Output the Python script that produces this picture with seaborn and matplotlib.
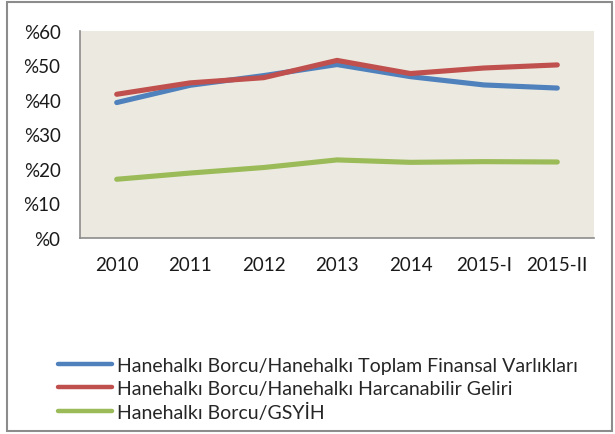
import matplotlib

matplotlib.use("Agg")

import matplotlib.pyplot as plt
import pandas as pd
import seaborn as sns
from matplotlib.patches import Rectangle
from matplotlib.ticker import FuncFormatter

# ------------------------------------------------------------------
# Data (in percent)
# ------------------------------------------------------------------
periods = ["2010", "2011", "2012", "2013", "2014", "2015-I", "2015-II"]
series_names = [
    "Hanehalkı Borcu/Hanehalkı Toplam Finansal Varlıkları",
    "Hanehalkı Borcu/Hanehalkı Harcanabilir Geliri",
    "Hanehalkı Borcu/GSYİH",
]
debt_to_assets = [39.2, 44.2, 47.0, 50.2, 46.7, 44.3, 43.4]
debt_to_income = [41.6, 44.9, 46.4, 51.4, 47.6, 49.2, 50.1]
debt_to_gdp = [17.0, 18.8, 20.4, 22.6, 21.9, 22.1, 22.0]
y_ticks = [0, 10, 20, 30, 40, 50, 60]

colors = ["#4F81BD", "#C0504D", "#9BBB59"]

df = pd.concat(
    [
        pd.DataFrame({"period": periods, "value": vals, "series": name})
        for name, vals in zip(series_names, [debt_to_assets, debt_to_income, debt_to_gdp])
    ],
    ignore_index=True,
)

sns.set_theme(style="white")
plt.rcParams["font.family"] = ["Lato", "DejaVu Sans"]

fig = plt.figure(figsize=(6.15, 4.35), dpi=100)
ax = fig.add_axes([80 / 615, 1 - 239 / 435, 514 / 615, 207.3 / 435])
ax.set_facecolor("#ECEAE0")

sns.lineplot(
    data=df, x="period", y="value", hue="series", hue_order=series_names,
    palette=colors, linewidth=3.7, sort=False, legend=False, ax=ax,
    solid_capstyle="round",
)

ax.set_xlim(-0.5, len(periods) - 0.5)
ax.set_ylim(0, 60)
ax.set_yticks(y_ticks)
ax.yaxis.set_major_formatter(FuncFormatter(lambda v, _: f"%{int(v)}"))
ax.set_xlabel("")
ax.set_ylabel("")
ax.tick_params(axis="both", length=0, labelsize=13.5, colors="#1a1a1a")
ax.tick_params(axis="y", pad=14)
ax.tick_params(axis="x", pad=13)

for side in ["top", "right"]:
    ax.spines[side].set_visible(False)
for side in ["left", "bottom"]:
    ax.spines[side].set_color("#8C8C8C")
    ax.spines[side].set_linewidth(1.2)

# Legend below the plot, stacked vertically
handles = [
    plt.Line2D([0], [0], color=c, linewidth=3.2, solid_capstyle="round")
    for c in colors
]
fig.legend(
    handles, series_names, loc="upper left",
    bbox_to_anchor=(50 / 615, 1 - 350 / 435), frameon=False,
    fontsize=14, handlelength=2.8, handletextpad=0.27,
    labelspacing=0.3, borderaxespad=0,
)

# Outer frame around the whole chart
fig.patches.append(
    Rectangle((7 / 615, 3 / 435), 605 / 615, 429 / 435,
              transform=fig.transFigure, fill=False,
              edgecolor="#8C8C8C", linewidth=1.5)
)

fig.savefig("out.png", dpi=100)
plt.close(fig)
